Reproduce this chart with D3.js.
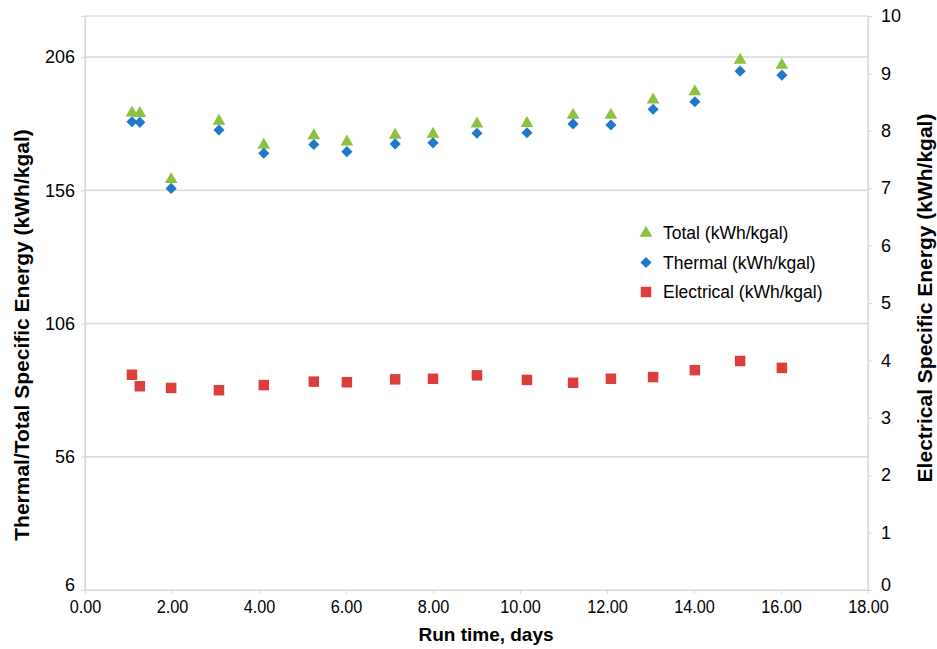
<!DOCTYPE html>
<html><head><meta charset="utf-8">
<script src="https://cdn.jsdelivr.net/npm/d3@7"></script>
<style>body{margin:0;background:#fff}svg{display:block}text{font-family:"Liberation Sans",Arial,sans-serif}</style>
</head><body>
<svg id="c" width="937" height="649"></svg>
<script>
const days = [1.08,1.26,1.98,3.08,4.11,5.26,6.02,7.13,8.0,9.01,10.16,11.22,12.09,13.06,14.02,15.06,16.02];
const total = [185.1,184.9,160.1,182.0,173.0,176.5,174.2,176.7,177.1,180.9,181.1,184.2,184.2,189.9,193.0,204.9,203.0];
const thermal = [181.7,181.5,156.7,178.6,169.9,173.2,170.5,173.4,173.8,177.4,177.6,180.9,180.5,186.4,189.2,200.7,199.2];
const electrical = [3.75,3.55,3.52,3.48,3.57,3.63,3.62,3.67,3.68,3.74,3.66,3.61,3.68,3.71,3.83,3.99,3.87];
const xTicks = [0,2,4,6,8,10,12,14,16,18];
const leftTicks = [6,56,106,156,206];
const rightTicks = [0,1,2,3,4,5,6,7,8,9,10];
const legendLabels = ["Total (kWh/kgal)","Thermal (kWh/kgal)","Electrical (kWh/kgal)"];
const colors = {total:"#8dc13f", thermal:"#1f78c8", electrical:"#dc3d3d"};

const svg = d3.select("#c");
const L=85, R=868, T=16, B=590;
const x = d3.scaleLinear().domain([0,18]).range([L,R]);
const yL = d3.scaleLinear().domain([6,221.4]).range([B,T]);
const yR = d3.scaleLinear().domain([0,10]).range([B,T]);
const grid="#d9d9d9";

// gridlines
svg.append("g").selectAll("line").data(leftTicks.filter(d=>d>6)).join("line")
  .attr("x1",L).attr("x2",R).attr("y1",d=>yL(d)).attr("y2",d=>yL(d))
  .attr("stroke",grid).attr("stroke-width",1.5);
// frame
svg.append("rect").attr("x",L).attr("y",T).attr("width",R-L).attr("height",B-T)
  .attr("fill","none").attr("stroke",grid).attr("stroke-width",1.2);

// axes
const ax = d3.axisBottom(x).tickValues(xTicks).tickFormat(d3.format(".2f")).tickSize(4).tickPadding(6);
const gx = svg.append("g").attr("transform",`translate(0,${B})`).call(ax);
const ayl = d3.axisLeft(yL).tickValues(leftTicks).tickSize(4).tickPadding(6);
const gyl = svg.append("g").attr("transform",`translate(${L},0)`).call(ayl);
const ayr = d3.axisRight(yR).tickValues(rightTicks).tickSize(4).tickPadding(9);
const gyr = svg.append("g").attr("transform",`translate(${R},0)`).call(ayr);
[gx,gyl,gyr].forEach(g=>{
  g.select(".domain").attr("stroke",grid).attr("stroke-width",1.2);
  g.selectAll(".tick line").attr("stroke",grid);
  g.selectAll(".tick text").attr("fill","#000").style("font-size","18px").style("font-family",'"Liberation Sans",Arial,sans-serif');
});
gx.selectAll(".tick text").style("font-size","17.5px").attr("y",null).attr("dy",null)
  .attr("y",23).attr("transform","scale(0.93,1)");
gyl.selectAll(".tick text").filter(d=>d===6).attr("dy","0.05em");
gyr.selectAll(".tick text").filter(d=>d===0).attr("dy","0.05em");

// axis titles
svg.append("text").attr("transform","translate(22,335) rotate(-90)").attr("text-anchor","middle")
  .style("font-size","21px").style("font-weight","bold").attr("fill","#000").attr("dy","0.35em")
  .text("Thermal/Total Specific Energy (kWh/kgal)");
svg.append("text").attr("transform","translate(925,298) rotate(-90)").attr("text-anchor","middle")
  .style("font-size","21px").style("font-weight","bold").attr("fill","#000").attr("dy","0.35em")
  .text("Electrical Specific Energy (kWh/kgal)");
svg.append("text").attr("x",486).attr("y",641).attr("text-anchor","middle")
  .style("font-size","19px").style("font-weight","bold").attr("fill","#000")
  .text("Run time, days");

// markers
const tri = d3.symbol().type(d3.symbolTriangle).size(70);
const dia = d3.symbol().type(d3.symbolSquare).size(62);
const sq = d3.symbol().type(d3.symbolSquare).size(110);
svg.append("g").selectAll("path").data(days).join("path")
  .attr("d",sq).attr("fill",colors.electrical)
  .attr("transform",(d,i)=>`translate(${x(d)},${yR(electrical[i])})`);
svg.append("g").selectAll("path").data(days).join("path")
  .attr("d",tri).attr("fill",colors.total)
  .attr("transform",(d,i)=>`translate(${x(d)},${yL(total[i])})`);
svg.append("g").selectAll("path").data(days).join("path")
  .attr("d",dia).attr("fill",colors.thermal)
  .attr("transform",(d,i)=>`translate(${x(d)},${yL(thermal[i])}) rotate(45)`);

// legend
const lg = svg.append("g").attr("transform","translate(646,233)");
const syms = [[tri,colors.total,0],[dia,colors.thermal,45],[sq,colors.electrical,0]];
legendLabels.forEach((t,i)=>{
  const g = lg.append("g").attr("transform",`translate(0,${i*29.5})`);
  g.append("path").attr("d",syms[i][0]).attr("fill",syms[i][1]).attr("transform",`rotate(${syms[i][2]})`);
  g.append("text").attr("x",17).attr("dy","0.35em").style("font-size","17.5px").attr("fill","#000").text(t);
});
</script>
</body></html>
